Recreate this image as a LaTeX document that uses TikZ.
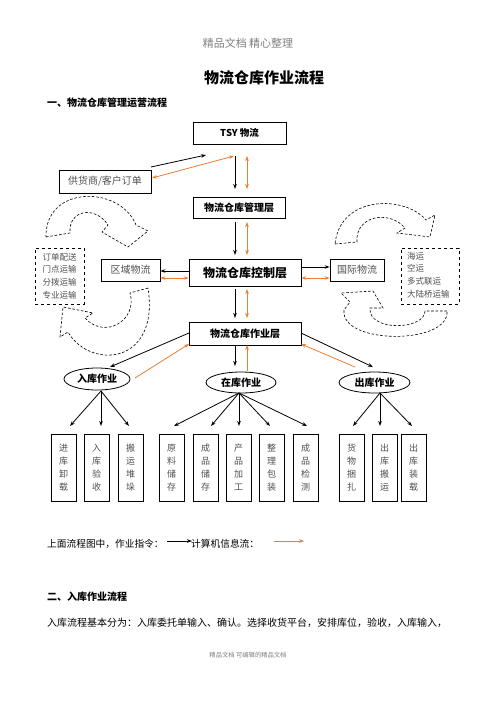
\documentclass[tikz,border=0pt]{standalone}
\usepackage{fontspec}
\setmainfont{Noto Sans CJK SC}
\usetikzlibrary{arrows.meta,shapes.geometric}
\definecolor{org}{RGB}{237,125,49}
\definecolor{tg}{RGB}{80,80,80}
\begin{document}
\begin{tikzpicture}[x=1pt,y=-1pt,
  box/.style={draw, line width=0.8pt, inner sep=0pt, align=center},
  dbox/.style={draw, dashed, line width=0.7pt, inner sep=0pt, text=tg,
     font=\fontsize{8.5}{12.6}\selectfont},
  leaf/.style={draw, line width=0.8pt, inner sep=0pt, minimum width=25pt,
     minimum height=67pt, align=center, text=tg, font=\fontsize{9}{13}\selectfont},
  ell/.style={ellipse, draw, line width=0.8pt, inner sep=0pt,
     font=\fontsize{10}{12}\selectfont\bfseries},
  tip/.tip={Stealth[length=5pt,width=3.6pt]},
  blk/.style={line width=0.8pt, -tip},
  org1/.style={draw=org, line width=0.8pt, -{Stealth[length=5pt,width=3.6pt,fill=org]}},
  org2/.style={draw=org, line width=0.8pt,
     {Stealth[length=5pt,width=3.6pt,fill=org]}-{Stealth[length=5pt,width=3.6pt,fill=org]}},
  curv/.style={draw, line width=0.6pt, dash pattern=on 2.6pt off 1.8pt}
]
\useasboundingbox[fill=white] (0,0) rectangle (496,702);

% header / titles
\node[text=gray, font=\fontsize{11}{13}\selectfont] (hdr) at (248,43) {精品文档\ 精心整理};
\node[font=\fontsize{15}{18}\selectfont\bfseries] (ttl) at (264,78) {物流仓库作业流程};
\node[anchor=west, inner sep=0pt, font=\fontsize{10}{12}\selectfont\bfseries] (sec1) at (47,103) {一、物流仓库管理运营流程};

% main boxes
\node[box, minimum width=93pt, minimum height=22pt, font=\fontsize{9.5}{11}\selectfont\bfseries] (tsy) at (239.5,133) {TSY 物流};
\node[box, minimum width=92pt, minimum height=23pt, text=tg, font=\fontsize{10}{12}\selectfont] (sup) at (105,181.5) {供货商/客户订单};
\node[box, minimum width=92pt, minimum height=21pt, font=\fontsize{10}{12}\selectfont\bfseries] (mgmt) at (239,207.5) {物流仓库管理层};
\node[box, minimum width=112pt, minimum height=27pt, font=\fontsize{12}{14}\selectfont\bfseries] (ctrl) at (245,272.5) {物流仓库控制层};
\node[box, minimum width=59pt, minimum height=22pt, text=tg, font=\fontsize{10}{12}\selectfont] (reg) at (130.5,270) {区域物流};
\node[box, minimum width=54pt, minimum height=22pt, text=tg, font=\fontsize{10}{12}\selectfont] (intl) at (357,270) {国际物流};
\node[box, minimum width=112pt, minimum height=23pt, font=\fontsize{10}{12}\selectfont\bfseries] (op) at (245,333.5) {物流仓库作业层};

% dashed boxes
\node[dbox, minimum width=49pt, minimum height=56pt, align=center] (ld) at (59.5,276) {订单配送\\门点运输\\分拨运输\\专业运输};
\node[dbox, minimum width=58pt, minimum height=56pt] (rd) at (430,276) {};
\node[anchor=north west, inner sep=0pt, align=left, text=tg, font=\fontsize{8.5}{12.6}\selectfont] (rdt) at (407,252) {海运\\空运\\多式联运\\大陆桥运输};

% ellipses
\node[ell, minimum width=66pt, minimum height=22pt] (e1) at (97,379) {入库作业};
\node[ell, minimum width=70pt, minimum height=21pt] (e2) at (241,382.5) {在库作业};
\node[ell, minimum width=71pt, minimum height=21pt] (e3) at (374.5,382.5) {出库作业};

% leaves
\node[leaf] (l1) at (63.5,467.5) {进\\库\\卸\\载};
\node[leaf] (l2) at (96.5,467.5) {入\\库\\验\\收};
\node[leaf] (l3) at (130.5,467.5) {搬\\运\\堆\\垛};
\node[leaf] (l4) at (171.5,467.5) {原\\料\\储\\存};
\node[leaf] (l5) at (205.5,467.5) {成\\品\\储\\存};
\node[leaf] (l6) at (238.5,467.5) {产\\品\\加\\工};
\node[leaf] (l7) at (271.5,467.5) {整\\理\\包\\装};
\node[leaf] (l8) at (305.5,467.5) {成\\品\\检\\测};
\node[leaf] (l9) at (351.5,467.5) {货\\物\\捆\\扎};
\node[leaf] (l10) at (384.5,467.5) {出\\库\\搬\\运};
\node[leaf] (l11) at (413.5,467.5) {出\\库\\装\\载};

% coordinates for connector ends
\coordinate (supA) at (151,167);
\coordinate (tsyA) at (206,155);
\coordinate (tsyB) at (234,156);
\coordinate (supB) at (152,178);
\coordinate (tsyC) at (235,156); \coordinate (mgA) at (235,189);
\coordinate (tsyD) at (247,156); \coordinate (mgB) at (247,189);
\coordinate (mgC) at (235,222); \coordinate (ctA) at (235,255);
\coordinate (mgD) at (247,222); \coordinate (ctB) at (247,255);
\coordinate (ctC) at (235,289); \coordinate (opA) at (235,318);
\coordinate (ctD) at (247,289); \coordinate (opB) at (247,318);
\coordinate (opC) at (235,345); \coordinate (e2A) at (235,366);
\coordinate (e2B) at (247,371); \coordinate (opD) at (247,345);
\coordinate (opL1) at (189,333); \coordinate (e1A) at (110,367);
\coordinate (e1B) at (135,378); \coordinate (opL2) at (189,344);
\coordinate (opR1) at (301,333); \coordinate (e3A) at (373,367);
\coordinate (e3B) at (355,367); \coordinate (opR2) at (301,344);
\coordinate (e1s) at (101,391);
\coordinate (e2s) at (239,393);
\coordinate (e3s) at (380,393);
\coordinate (t1) at (70,426); \coordinate (t2) at (101,426); \coordinate (t3) at (129,426);
\coordinate (t4) at (174,426); \coordinate (t5) at (211,426); \coordinate (t6) at (239,426);
\coordinate (t7) at (270,426); \coordinate (t8) at (307,426);
\coordinate (t9) at (353,426); \coordinate (t10) at (380,426); \coordinate (t11) at (412,426);

% connectors
\draw[blk] (supA) -- (tsyA);
\draw[org2] (tsyB) -- (supB);
\draw[blk] (tsyC) -- (mgA);
\draw[org2] (tsyD) -- (mgB);
\draw[blk] (mgC) -- (ctA);
\draw[org2] (mgD) -- (ctB);
\draw[blk] (ctrl.west |- 0,271) -- (reg.east |- 0,271);
\draw[org2] (reg.east |- 0,278) -- (ctrl.west |- 0,278);
\draw[blk] (ctrl.east |- 0,267) -- (intl.west |- 0,267);
\draw[org2] (ctrl.east |- 0,278) -- (intl.west |- 0,278);
\draw[blk] (ctC) -- (opA);
\draw[org2] (ctD) -- (opB);
\draw[blk] (opC) -- (e2A);
\draw[org1] (e2B) -- (opD);
\draw[blk] (opL1) -- (e1A);
\draw[org1] (e1B) -- (opL2);
\draw[blk] (opR1) -- (e3A);
\draw[org1] (e3B) -- (opR2);
\foreach \t in {t1,t2,t3} \draw[blk] (e1s) -- (\t);
\foreach \t in {t4,t5,t6,t7,t8} \draw[blk] (e2s) -- (\t);
\foreach \t in {t9,t10,t11} \draw[blk] (e3s) -- (\t);

% dashed curved block arrows
\draw[curv] (46,237) -- (70,233) .. controls (68,210) and (95,205) .. (108,225)
  -- (102,232) -- (128,247) -- (148,231) -- (136,225)
  .. controls (120,185) and (45,185) .. (46,237) -- cycle;
\draw[curv] (148,288) -- (130,293) .. controls (138,320) and (105,340) .. (85,318)
  -- (93,313) -- (63,307) -- (60,337) -- (68,332)
  .. controls (90,370) and (160,365) .. (148,288) -- cycle;
\draw[curv] (335,244) -- (357,242) .. controls (355,215) and (390,210) .. (405,228)
  -- (397,233) -- (430,237) -- (435,215) -- (426,220)
  .. controls (405,195) and (340,195) .. (335,244) -- cycle;
\draw[curv] (447,311) -- (425,311) .. controls (425,330) and (368,332) .. (370,308)
  -- (383,308) -- (373,291) -- (341,293) -- (350,302) -- (344,310)
  .. controls (340,345) and (450,345) .. (447,311) -- cycle;

% legend and text
\node[anchor=west, inner sep=0pt, font=\fontsize{9.7}{12}\selectfont] (lg1) at (47,544) {上面流程图中，作业指令：};
\node[anchor=west, inner sep=0pt, font=\fontsize{9.7}{12}\selectfont] (lg2) at (191,544) {计算机信息流：};
\coordinate (la1) at (167,541); \coordinate (la2) at (192,541);
\coordinate (lb1) at (274,541); \coordinate (lb2) at (304,541);
\draw[blk] (la1) -- (la2);
\draw[org1] (lb1) -- (lb2);
\node[anchor=west, inner sep=0pt, font=\fontsize{10}{12}\selectfont\bfseries] (sec2) at (47,597) {二、入库作业流程};
\node[anchor=west, inner sep=0pt, font=\fontsize{10}{12}\selectfont] (par) at (47,623) {入库流程基本分为：入库委托单输入、确认。选择收货平台，安排库位，验收，入库输入，};
\node[text=gray, font=\fontsize{6.3}{8}\selectfont] (ftr) at (248,655) {精品文档\ 可编辑的精品文档};
\end{tikzpicture}
\end{document}
